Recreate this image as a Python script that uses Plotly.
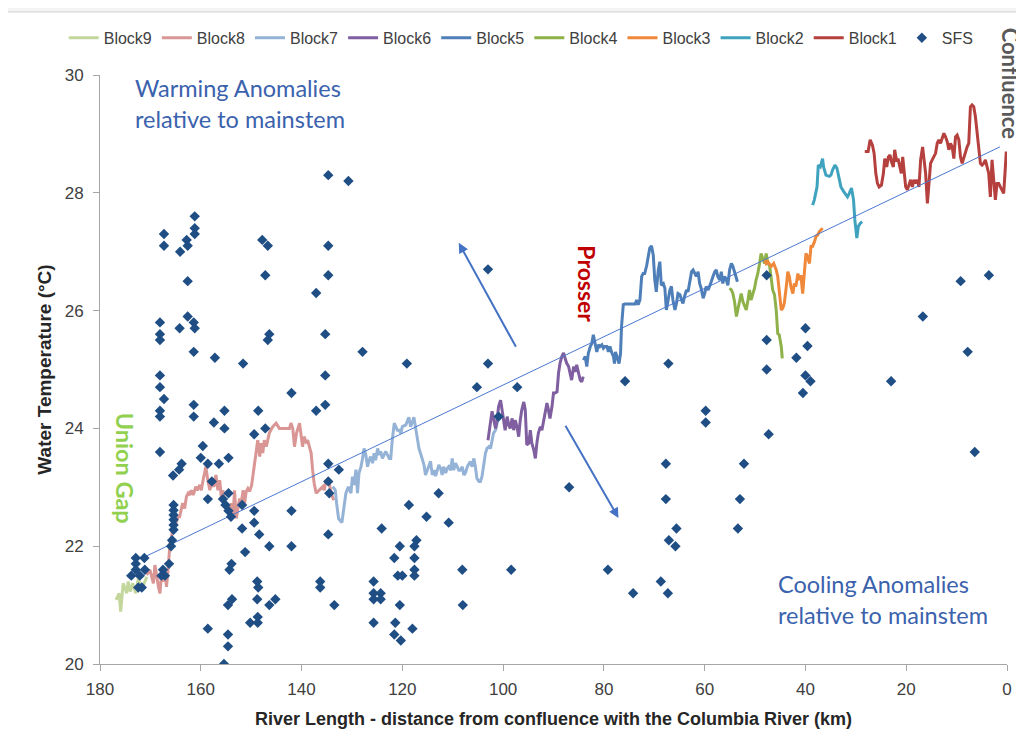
import plotly.graph_objects as go

# ---------------- data ----------------
block9_km = [176.8, 176.2, 175.9, 175.4, 174.7, 174.4, 174.0, 173.5, 172.9, 172.4, 171.7, 170.7]
block9_t = [21.09, 21.2, 20.89, 21.37, 21.2, 21.4, 21.23, 21.37, 21.2, 21.45, 21.28, 21.48]

block8_km = [170.75, 170.1, 169.4, 169.1, 168.4, 168.1, 167.8, 167.5, 167.1, 166.8, 166.5, 166.1, 165.8, 165.5,
             164.95, 164.5, 164.2, 163.6, 163.2, 162.85, 162.5, 162.2, 161.9, 161.5, 161.0, 160.7, 160.2, 159.9,
             159.55, 159.0, 158.6, 158.2, 157.9, 157.4, 157.0, 156.6, 156.25, 155.9, 155.6, 155.3, 154.9, 154.6,
             154.3, 153.95, 153.6, 153.3, 152.96, 152.6, 152.3, 151.97, 151.6, 151.3, 150.98, 150.65, 150.3, 149.9,
             149.3, 148.7, 148.3, 148.0, 147.7, 147.4, 147.0, 146.4, 145.7, 145.05, 144.4, 143.7, 143.1, 142.4,
             142.1, 141.75, 141.4, 141.0, 140.4, 140.1, 139.8, 139.5, 139.1, 138.8, 138.5, 138.1, 137.8, 137.5,
             137.1, 136.5, 135.8, 135.5, 135.2, 134.6, 134.4, 134.0, 133.6]
block8_t = [21.51, 21.60, 21.37, 21.68, 21.31, 21.20, 21.51, 21.40, 21.54, 21.31, 21.60, 22.05, 22.16, 22.33,
            22.39, 22.50, 22.50, 22.73, 22.64, 22.84, 22.90, 22.87, 22.95, 22.87, 23.01, 22.95, 23.04, 22.95,
            23.12, 23.35, 23.12, 22.95, 23.07, 23.01, 23.21, 22.95, 23.12, 22.81, 22.95, 22.73, 22.64, 22.70,
            22.50, 22.73, 22.50, 22.95, 22.47, 22.67, 22.81, 22.73, 22.95, 22.73, 22.93, 22.98, 22.93, 23.04,
            23.41, 23.80, 23.52, 23.75, 23.58, 23.80, 23.69, 23.92, 24.03, 24.09, 24.00, 24.00, 24.00, 24.00,
            24.09, 24.00, 23.69, 23.92, 24.09, 23.86, 23.69, 23.86, 23.77, 23.80, 23.69, 23.58, 23.29, 23.07,
            22.90, 22.95, 23.01, 22.95, 23.10, 23.10, 23.01, 22.87, 22.78]

block7_km = [133.8, 133.3, 133.05, 132.65, 132.0, 131.5, 131.2, 130.7, 130.2, 129.9, 129.6, 129.2, 128.9, 128.6,
             128.2, 127.9, 127.6, 127.25, 126.9, 126.6, 126.3, 125.9, 125.6, 125.3, 124.9, 124.6, 124.3, 123.95,
             123.3, 122.6, 122.3, 122.0, 121.6, 121.3, 121.0, 120.65, 120.3, 120.0, 119.3, 118.7, 118.35, 118.0,
             117.7, 117.4, 117.0, 116.7, 116.4, 116.0, 115.7, 115.4, 115.05, 114.7, 114.4, 114.06, 113.7, 113.4,
             113.1, 112.75, 112.4, 112.1, 111.8, 111.4, 111.1, 110.8, 110.4, 110.1, 109.8, 109.45, 109.1, 108.8,
             108.5, 108.1, 107.8, 107.5, 107.1, 106.8, 106.5, 106.15, 105.8, 105.5, 105.2, 104.8, 104.5, 104.2,
             103.8, 103.5, 103.2, 102.8, 102.5, 102.2, 101.9, 101.5, 101.2, 100.9]
block7_t = [23.01, 22.95, 22.73, 22.47, 22.40, 22.73, 22.90, 23.01, 22.90, 23.18, 23.04, 23.30, 22.90, 23.24,
            23.35, 23.49, 23.66, 23.55, 23.35, 23.46, 23.52, 23.41, 23.58, 23.46, 23.66, 23.55, 23.61, 23.49,
            23.61, 23.49, 23.49, 23.80, 24.09, 24.03, 23.97, 23.97, 23.92, 24.03, 24.06, 24.19, 24.03, 24.11,
            24.19, 24.03, 23.80, 23.66, 23.58, 23.46, 23.38, 23.21, 23.29, 23.35, 23.44, 23.21, 23.29, 23.19,
            23.27, 23.38, 23.32, 23.21, 23.35, 23.24, 23.32, 23.35, 23.29, 23.49, 23.29, 23.41, 23.35, 23.29,
            23.29, 23.35, 23.21, 23.24, 23.35, 23.41, 23.44, 23.35, 23.49, 23.35, 23.15, 23.10, 23.10, 23.18,
            23.41, 23.58, 23.66, 23.69, 23.66, 23.80, 23.92, 23.97, 24.11, 24.20]

block6_km = [103.0, 102.5, 102.2, 101.9, 101.5, 101.2, 100.9, 100.5, 100.2, 99.9, 99.6, 99.2, 98.9, 98.6, 98.2,
             97.9, 97.6, 97.25, 96.9, 96.6, 96.3, 95.9, 95.6, 95.3, 94.9, 94.6, 94.3, 93.9, 93.6, 93.3, 93.0,
             92.6, 92.3, 92.0, 91.65, 91.3, 91.0, 90.7, 90.3, 90.0, 89.7, 89.3, 89.0, 88.7, 88.35, 88.0, 87.7,
             87.4, 87.0, 86.7, 86.4, 86.0, 85.7, 85.4, 85.05, 84.7, 84.4, 84.1]
block6_t = [23.80, 24.09, 24.29, 24.17, 24.00, 24.14, 24.37, 24.48, 24.31, 24.14, 23.97, 24.20, 24.06, 24.00, 24.17,
            23.97, 24.14, 24.03, 23.86, 24.14, 24.31, 24.45, 24.31, 23.72, 23.75, 23.97, 23.75, 23.63, 23.49, 23.75, 23.92,
            24.03, 23.97, 24.11, 24.26, 24.43, 24.31, 24.17, 24.37, 24.60, 24.60, 24.62, 24.94, 25.11, 25.22, 25.28, 25.19,
            25.11, 25.05, 24.91, 24.82, 25.05, 24.96, 25.08, 24.94, 24.82, 24.79, 24.88]

block5_km = [84.06, 83.7, 83.4, 83.1, 82.7, 82.4, 82.1, 81.75, 81.4, 81.1, 80.8, 80.4, 80.1, 79.8, 79.4, 79.1,
             78.8, 78.5, 78.1, 77.9, 77.7, 77.3, 77.0, 76.7, 76.5, 76.15, 75.8, 75.2, 74.5, 73.8, 73.5, 73.2,
             72.85, 72.5, 72.2, 71.9, 71.5, 71.2, 70.9, 70.55, 70.2, 69.9, 69.6, 69.2, 68.9, 68.6, 68.2, 67.9,
             67.6, 67.25, 66.9, 66.6, 66.3, 65.9, 65.6, 65.3, 64.9, 64.6, 64.3, 64.0, 63.6, 63.3, 63.0, 62.6,
             62.3, 62.0, 61.65, 61.3, 61.0, 60.7, 60.3, 60.0, 59.7, 59.3, 59.0, 58.7, 58.35, 58.0, 57.7, 57.4,
             57.0, 56.7, 56.4, 56.05, 55.7, 55.4, 55.06, 54.7, 54.4, 54.07, 53.7, 53.5]
block5_t = [25.16, 25.22, 25.05, 25.27, 25.39, 25.44, 25.59, 25.44, 25.30, 25.42, 25.39, 25.42, 25.36, 25.39, 25.39, 25.30,
            25.39, 25.30, 25.22, 25.10, 25.30, 25.19, 25.10, 25.27, 25.73, 26.10, 26.11, 26.11, 26.11, 26.11, 26.18, 26.10,
            26.18, 26.58, 26.63, 26.63, 26.77, 26.94, 27.06, 27.10, 26.94, 26.52, 26.32, 26.69, 26.83, 26.43, 26.46, 26.38,
            26.01, 26.18, 26.35, 26.41, 26.18, 26.01, 26.12, 26.29, 26.27, 26.18, 26.12, 26.24, 26.35, 26.32, 26.49, 26.66,
            26.69, 26.63, 26.58, 26.66, 26.46, 26.38, 26.21, 26.29, 26.41, 26.35, 26.41, 26.49, 26.58, 26.66, 26.69, 26.58,
            26.52, 26.66, 26.46, 26.58, 26.52, 26.43, 26.69, 26.80, 26.75, 26.63, 26.55, 26.49]

block4_km = [55.06, 54.7, 54.4, 54.07, 53.7, 53.4, 53.08, 52.75, 52.4, 52.09, 51.75, 51.4, 51.1, 50.8, 50.4, 50.1,
             49.8, 49.45, 49.1, 48.8, 48.5, 48.1, 47.8, 47.5, 47.1, 46.8, 46.5, 46.15, 45.8, 45.5, 45.2, 44.8, 44.6]
block4_t = [26.38, 26.35, 26.29, 26.15, 25.90, 26.01, 26.18, 26.29, 26.15, 26.07, 26.01, 26.18, 26.35, 26.18, 26.29, 26.38,
            26.52, 26.63, 26.80, 26.97, 26.89, 26.80, 26.97, 26.83, 26.75, 26.58, 26.35, 26.27, 26.01, 25.61, 25.59, 25.39, 25.19]

block3_km = [48.1, 47.8, 47.5, 46.8, 46.3, 45.8, 45.5, 45.2, 44.8, 44.5, 44.2, 43.8, 43.5, 43.2, 42.9, 42.5, 42.2,
             41.9, 41.5, 41.2, 40.9, 40.55, 40.2, 39.9, 39.6, 39.2, 38.9, 38.6, 38.2, 37.9, 37.6, 37.25, 36.9, 36.6]
block3_t = [26.86, 26.80, 26.83, 26.75, 26.80, 26.69, 26.58, 26.29, 26.01, 26.04, 26.12, 26.41, 26.66, 26.58, 26.41, 26.29, 26.46,
            26.41, 26.63, 26.52, 26.60, 26.29, 26.75, 26.97, 26.92, 26.80, 27.09, 27.09, 27.17, 27.26, 27.28, 27.34, 27.37, 27.40]

block2_km = [38.57, 38.24, 37.7, 37.45, 37.05, 36.6, 36.4, 35.93, 35.27, 34.94, 34.6, 34.15, 33.76, 33.3, 32.96,
             32.4, 31.97, 31.65, 31.3, 30.86, 30.46, 30.2, 29.8, 29.5, 29.14, 28.75]
block2_t = [27.79, 27.88, 28.10, 28.47, 28.44, 28.58, 28.44, 28.30, 28.28, 28.30, 28.39, 28.47, 28.42, 28.25, 28.10,
            28.02, 27.96, 27.93, 27.99, 28.08, 27.88, 27.54, 27.23, 27.43, 27.48, 27.51]

block1_km = [28.22, 27.56, 27.16, 26.7, 26.37, 26.04, 25.71, 25.38, 24.92, 24.53, 24.26, 23.87, 23.54, 23.21, 22.95,
             22.55, 22.29, 21.89, 21.63, 21.23, 20.97, 20.7, 20.44, 20.11, 19.78, 19.45, 19.12, 18.79, 18.46, 18.13,
             17.8, 17.47, 17.14, 16.75, 16.48, 16.15, 15.8, 15.5, 15.17, 14.84, 14.5, 14.18, 13.85, 13.52, 13.19,
             12.86, 12.53, 12.2, 11.87, 11.54, 11.21, 10.88, 10.55, 10.22, 9.89, 9.56, 9.23, 8.9, 8.57, 8.24, 7.91,
             7.59, 7.26, 6.93, 6.6, 6.27, 5.94, 5.61, 5.28, 4.95, 4.62, 4.29, 3.96, 3.63, 3.3, 2.97, 2.64, 2.31,
             1.98, 1.65, 1.32, 0.99, 0.66, 0.4, 0.14]
block1_t = [28.70, 28.70, 28.90, 28.81, 28.67, 28.33, 28.16, 28.10, 28.13, 28.33, 28.58, 28.44, 28.61, 28.64, 28.53,
            28.44, 28.73, 28.53, 28.58, 28.42, 28.33, 28.61, 28.39, 28.10, 28.05, 28.16, 28.22, 28.10, 28.22, 28.16,
            28.22, 28.10, 28.56, 28.78, 28.61, 28.33, 27.82, 28.16, 28.50, 28.56, 28.61, 28.67, 28.84, 28.90, 28.84,
            28.92, 29.01, 28.95, 28.87, 28.73, 28.84, 28.78, 28.58, 28.95, 28.98, 28.90, 28.61, 28.50, 28.61, 28.67, 28.78,
            28.84, 29.46, 29.49, 29.46, 29.29, 29.01, 28.78, 28.50, 28.47, 28.50, 28.56, 28.44, 28.33, 27.93, 28.56, 28.22, 27.88,
            28.16, 28.16, 28.10, 28.05, 27.99, 28.33, 28.70]

sfs_points = [
    (134.7, 28.3), (130.7, 28.2), (161.2, 27.6), (161.2, 27.4), (161.2, 27.3), (167.3, 27.3), (167.3, 27.1),
    (162.8, 27.2), (162.6, 27.1), (164.1, 27.0), (147.8, 27.2), (146.7, 27.1), (134.7, 27.1),
    (162.6, 26.5), (147.2, 26.6), (134.7, 26.6), (137.1, 26.3),
    (168.1, 25.8), (168.1, 25.6), (168.1, 25.5), (164.2, 25.7), (162.6, 25.9), (161.4, 25.8), (161.2, 25.7),
    (161.4, 25.3), (146.4, 25.6), (146.7, 25.5), (135.3, 25.6), (157.2, 25.2), (151.6, 25.1),
    (168.1, 24.9), (168.1, 24.7), (167.3, 24.5), (168.1, 24.3), (168.1, 24.2), (161.4, 24.4), (161.4, 24.2),
    (155.3, 24.3), (157.4, 24.1), (155.3, 24.0), (148.6, 24.3), (147.2, 24.0), (142.0, 24.6), (137.1, 24.3),
    (135.3, 24.9), (135.3, 24.4), (168.1, 23.6), (159.6, 23.7), (160.0, 23.5), (158.6, 23.4), (156.4, 23.4),
    (154.5, 23.5), (163.8, 23.4), (164.3, 23.3), (165.5, 23.2), (149.4, 23.9), (157.8, 23.1),
    (158.6, 22.8), (154.5, 22.9), (155.6, 22.8), (155.1, 22.7), (154.5, 22.6), (154.0, 22.5),
    (165.4, 22.7), (165.4, 22.61), (165.4, 22.53), (165.4, 22.45), (165.4, 22.36), (165.4, 22.28),
    (165.7, 22.1), (165.9, 22.0), (166.3, 21.7),
    (151.8, 22.7), (151.8, 22.3), (151.2, 21.9), (149.4, 22.6), (149.4, 22.4), (148.4, 22.2), (146.4, 22.0),
    (142.0, 22.6), (142.0, 22.0), (134.7, 23.4), (134.7, 23.1), (134.5, 22.9), (132.6, 23.3), (134.7, 22.2),
    (136.3, 21.4), (136.3, 21.3), (133.5, 21.0),
    (172.9, 21.8), (172.9, 21.7), (172.9, 21.6), (171.2, 21.8), (173.8, 21.5), (172.1, 21.5), (171.1, 21.6),
    (172.4, 21.3), (171.7, 21.3), (167.5, 21.6), (167.8, 21.5), (167.1, 21.5),
    (153.9, 21.7), (154.3, 21.6), (154.6, 21.0), (153.8, 21.1), (148.8, 21.4), (148.6, 21.3), (148.8, 21.1),
    (145.2, 21.1), (146.4, 21.0), (148.7, 20.8), (150.2, 20.7), (148.7, 20.7),
    (158.6, 20.6), (154.6, 20.5), (154.6, 20.3), (155.4, 20.0),
    (127.9, 25.3), (119.1, 25.1), (103.0, 25.1), (105.2, 24.7), (97.2, 24.7), (100.9, 24.2), (103.0, 26.7),
    (112.8, 22.9), (118.7, 22.7), (115.2, 22.5), (110.8, 22.4), (124.1, 22.3),
    (117.2, 22.1), (117.6, 22.0), (120.5, 22.0), (121.6, 21.8), (117.6, 21.8), (117.6, 21.6),
    (120.9, 21.5), (120.0, 21.5), (117.6, 21.5), (108.1, 21.6), (98.4, 21.6),
    (125.7, 21.4), (125.7, 21.2), (124.3, 21.2), (125.7, 21.1), (124.3, 21.1),
    (120.5, 21.0), (108.0, 21.0), (125.7, 20.7), (121.4, 20.7), (121.6, 20.5), (118.0, 20.6), (120.3, 20.4),
    (86.9, 23.0),
    (75.8, 24.8), (59.8, 24.3), (59.8, 24.1), (47.3, 23.9), (6.4, 23.6), (67.7, 23.4), (52.2, 23.4),
    (67.7, 22.8), (53.0, 22.8), (65.6, 22.3), (53.4, 22.3), (67.1, 22.1), (65.8, 22.0),
    (79.2, 21.6), (74.2, 21.2), (68.7, 21.4), (67.3, 21.2),
    (47.7, 26.6), (9.2, 26.5), (3.6, 26.6), (16.7, 25.9), (40.0, 25.7), (47.7, 25.5), (39.6, 25.4), (7.8, 25.3),
    (67.2, 25.1), (47.7, 25.0), (41.8, 25.2), (40.0, 24.9), (39.0, 24.8), (40.5, 24.6), (23.0, 24.8),
]

trend_km = [171.1, 1.4]
trend_t = [21.82, 28.78]

x_ticks = [180, 160, 140, 120, 100, 80, 60, 40, 20, 0]
y_ticks = [20, 22, 24, 26, 28, 30]

# ---------------- figure ----------------
FONT = "Liberation Sans, Arial, sans-serif"
TXT = "Lato, Open Sans, sans-serif"

blocks = [
    ("Block9", block9_km, block9_t, "#c3d69b"),
    ("Block8", block8_km, block8_t, "#d99694"),
    ("Block7", block7_km, block7_t, "#95b3d7"),
    ("Block6", block6_km, block6_t, "#7f5fa0"),
    ("Block5", block5_km, block5_t, "#4f7fb8"),
    ("Block4", block4_km, block4_t, "#8fb14a"),
    ("Block3", block3_km, block3_t, "#f0883a"),
    ("Block2", block2_km, block2_t, "#3fa3bf"),
    ("Block1", block1_km, block1_t, "#b5403d"),
]

fig = go.Figure()

for name, xs, ys, col in blocks:
    fig.add_trace(go.Scatter(x=xs, y=ys, mode="lines", name=name, line=dict(color=col, width=3)))

fig.add_trace(go.Scatter(x=trend_km, y=trend_t, mode="lines", line=dict(color="#4a78d0", width=1),
                         showlegend=False, hoverinfo="skip"))

sfs_km = [p[0] for p in sfs_points]
sfs_t = [p[1] for p in sfs_points]
fig.add_trace(go.Scatter(x=sfs_km, y=sfs_t, mode="markers", name="SFS",
                         marker=dict(symbol="diamond", size=8, color="#1f4e85")))

ann = []
ann.append(dict(x=173.5, y=29.99, yshift=4, xref="x", yref="y", text="Warming Anomalies<br>relative to mainstem",
                showarrow=False, xanchor="left", yanchor="top", align="left",
                font=dict(family=TXT, size=23.5, color="#3a62ad")))
ann.append(dict(x=45.9, y=21.63, xref="x", yref="y", text="Cooling Anomalies<br>relative to mainstem",
                showarrow=False, xanchor="left", yanchor="top", align="left",
                font=dict(family=TXT, size=23.5, color="#3a62ad")))
ann.append(dict(x=83.4, y=26.45, xref="x", yref="y", text="<b>Prosser</b>", showarrow=False, textangle=90,
                xanchor="center", yanchor="middle",
                font=dict(family=TXT, size=23, color="#c00000")))
ann.append(dict(x=175.0, y=23.33, xref="x", yref="y", text="<b>Union Gap</b>", showarrow=False, textangle=90,
                xanchor="center", yanchor="middle",
                font=dict(family=TXT, size=23.5, color="#92d050")))
ann.append(dict(x=1.0035, y=0.985, xref="paper", yref="paper", text="<b>Confluence</b>", showarrow=False,
                textangle=90, xanchor="center", yanchor="middle",
                font=dict(family=TXT, size=22, color="#595959")))
# arrows
ann.append(dict(x=108.8, y=27.15, ax=97.3, ay=25.36, xref="x", yref="y", axref="x", ayref="y", text="",
                showarrow=True, arrowhead=2, arrowsize=1, arrowwidth=2, arrowcolor="#4472c4"))
ann.append(dict(x=77.1, y=22.48, ax=87.8, ay=24.07, xref="x", yref="y", axref="x", ayref="y", text="",
                showarrow=True, arrowhead=2, arrowsize=1, arrowwidth=2, arrowcolor="#4472c4"))

shapes = [
    dict(type="rect", xref="paper", yref="paper", x0=-0.2, x1=1.2, y0=1.107, y1=1.2,
         fillcolor="#f4f4f4", line=dict(width=0), layer="below"),
    dict(type="rect", xref="paper", yref="paper", x0=-0.2, x1=-0.102, y0=-0.2, y1=1.2,
         fillcolor="#f4f4f4", line=dict(width=0), layer="below"),
    dict(type="line", xref="paper", yref="paper", x0=-0.102, x1=1.2, y0=1.107, y1=1.107,
         line=dict(color="#d0d0d0", width=1)),
    dict(type="line", xref="paper", yref="paper", x0=-0.102, x1=-0.102, y0=-0.2, y1=1.107,
         line=dict(color="#d0d0d0", width=1)),
]

fig.update_layout(
    width=1016, height=744,
    margin=dict(l=92, r=14, t=67, b=88),
    paper_bgcolor="white", plot_bgcolor="white",
    font=dict(family=FONT, size=16, color="#404040"),
    legend=dict(orientation="h", x=-0.04, y=1.063, xanchor="left", yanchor="middle",
                font=dict(family=FONT, size=16, color="#404040"), itemwidth=30,
                bgcolor="rgba(0,0,0,0)", tracegroupgap=0),
    annotations=ann,
    shapes=shapes,
    xaxis=dict(range=[180, 0], tickvals=x_ticks, ticktext=[str(v) for v in x_ticks],
               showgrid=False, zeroline=False, showline=True, linecolor="#a6a6a6", linewidth=1,
               ticks="outside", ticklen=6, tickcolor="#a6a6a6", ticklabelstandoff=4,
               tickfont=dict(family=FONT, size=17, color="#404040"),
               title=dict(text="<b>River Length - distance from confluence with the Columbia River (km)</b>",
                          font=dict(family=FONT, size=18, color="#262626"), standoff=13)),
    yaxis=dict(range=[20, 30], tickvals=y_ticks, ticktext=[str(v) for v in y_ticks],
               showgrid=False, zeroline=False, showline=True, linecolor="#a6a6a6", linewidth=1,
               ticks="outside", ticklen=6, tickcolor="#a6a6a6", ticklabelstandoff=6,
               tickfont=dict(family=FONT, size=17, color="#404040"),
               title=dict(text="<b>Water Temperature (°C)</b>",
                          font=dict(family=FONT, size=19, color="#262626"), standoff=8)),
)

fig.write_html("out.html")
